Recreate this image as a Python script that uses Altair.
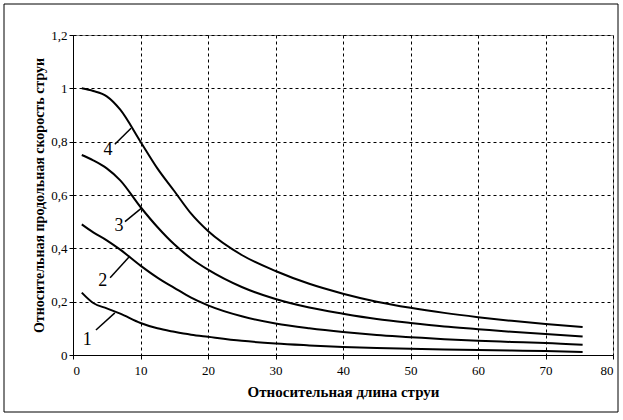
import altair as alt
import pandas as pd

xs = [1.3, 3, 5, 7, 10, 12.5, 15, 17.5, 20, 25, 30, 35, 40, 45, 50, 55, 60, 65, 70, 75.5]
c4 = [1.0, 0.99, 0.97, 0.92, 0.80, 0.70, 0.615, 0.53, 0.465, 0.375, 0.315, 0.267, 0.23, 0.2, 0.177, 0.158, 0.142, 0.128, 0.116, 0.105]
c3 = [0.75, 0.73, 0.70, 0.655, 0.555, 0.48, 0.415, 0.362, 0.32, 0.255, 0.21, 0.178, 0.155, 0.135, 0.12, 0.107, 0.097, 0.087, 0.079, 0.069]
c2 = [0.49, 0.46, 0.43, 0.395, 0.335, 0.29, 0.252, 0.215, 0.186, 0.145, 0.118, 0.1, 0.086, 0.075, 0.067, 0.059, 0.053, 0.049, 0.045, 0.038]
c1 = [0.234, 0.195, 0.175, 0.155, 0.12, 0.1, 0.087, 0.076, 0.068, 0.053, 0.043, 0.036, 0.03, 0.026, 0.023, 0.021, 0.019, 0.017, 0.015, 0.011]

label_names = ["1", "2", "3", "4"]
label_x = [2.1, 4.4, 6.8, 5.2]
label_y = [0.056, 0.277, 0.484, 0.77]
lead_x1 = [3.4, 5.5, 7.7, 6.2]
lead_y1 = [0.094, 0.29, 0.50, 0.79]
lead_x2 = [6.2, 8.4, 10.1, 8.6]
lead_y2 = [0.158, 0.37, 0.55, 0.85]

x_title = "Относительная длина струи"
y_title = "Относительная продольная скорость струи"

rows = []
for name, ys in zip(["1", "2", "3", "4"], [c1, c2, c3, c4]):
    for x, y in zip(xs, ys):
        rows.append({"curve": name, "x": x, "y": y})
df = pd.DataFrame(rows)

lab = pd.DataFrame({"name": label_names, "x": label_x, "y": label_y,
                    "x1": lead_x1, "y1": lead_y1, "x2": lead_x2, "y2": lead_y2})

FONT = "'Liberation Serif', 'Times New Roman', 'DejaVu Serif', serif"

xscale = alt.Scale(domain=[0, 80], nice=False)
yscale = alt.Scale(domain=[0, 1.2], nice=False)

xaxis = alt.Axis(title=x_title, values=list(range(0, 81, 10)), titleFontSize=15,
                 labelExpr="replace(format(datum.value, '~g'), '.', ',')")
yaxis = alt.Axis(title=y_title, values=[0, 0.2, 0.4, 0.6, 0.8, 1.0, 1.2],
                 labelExpr="replace(format(datum.value, '~g'), '.', ',')")

lines = alt.Chart(df).mark_line(color="black", strokeWidth=2, interpolate="monotone").encode(
    x=alt.X("x:Q", scale=xscale, axis=xaxis),
    y=alt.Y("y:Q", scale=yscale, axis=yaxis),
    detail="curve:N",
)

leaders = alt.Chart(lab).mark_rule(color="black", strokeWidth=1.5).encode(
    x="x1:Q", y="y1:Q", x2="x2:Q", y2="y2:Q"
)

texts = alt.Chart(lab).mark_text(font=FONT, fontSize=18, color="black").encode(
    x="x:Q", y="y:Q", text="name:N"
)

border = alt.Chart(pd.DataFrame({"a": [0]})).mark_rect(
    fillOpacity=0, stroke="black", strokeWidth=1
).encode(
    x=alt.value(-69), x2=alt.value(545), y=alt.value(-31), y2=alt.value(377)
)

chart = alt.layer(lines, leaders, texts, border).properties(
    width=540, height=320,
    autosize=alt.AutoSizeParams(type="none"),
    padding={"left": 73, "top": 35, "right": 10, "bottom": 65},
    background="white",
).configure_view(stroke="#888888", strokeWidth=1).configure_axis(
    labelFont=FONT, labelFontSize=13, labelColor="black",
    titleFont=FONT, titleFontSize=14, titleFontWeight="bold", titleColor="black",
    domainColor="black", tickColor="black", tickSize=4,
    gridColor="black", gridDash=[3, 3], gridWidth=1, gridOpacity=1,
).configure_axisX(labelPadding=5, titlePadding=7).configure_axisY(labelPadding=2, titlePadding=4)

chart.save("out.html", embed_options={"renderer": "svg", "actions": False})
